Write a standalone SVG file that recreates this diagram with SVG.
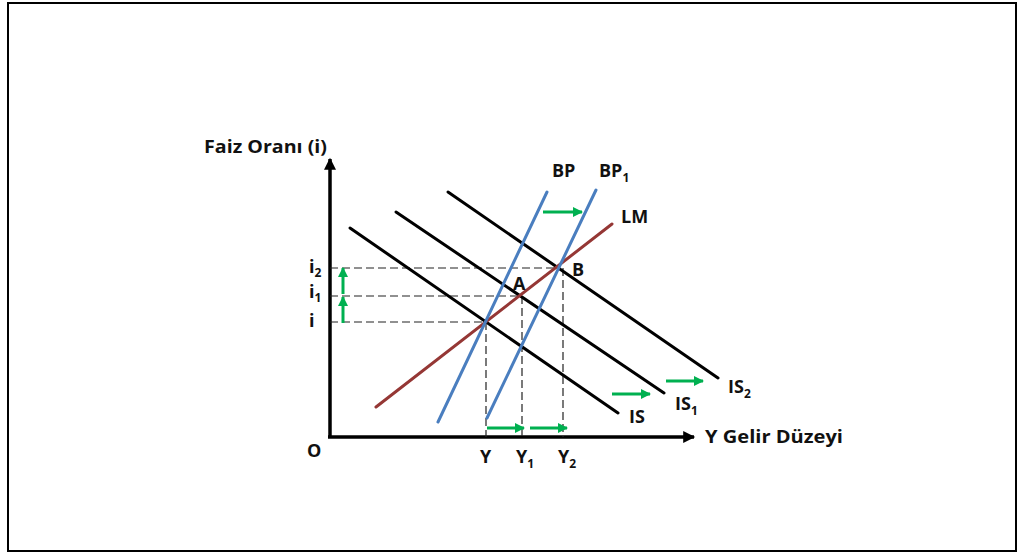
<svg xmlns="http://www.w3.org/2000/svg" width="1022" height="556" viewBox="0 0 1022 556">
<style>
text{font-family:"Open Sans","Liberation Sans",sans-serif;font-weight:bold;font-size:18px;fill:#111}
.sub{font-size:12px}
.is{stroke:#000;stroke-width:3;stroke-linecap:round;fill:none}
.bp{stroke:#4a7ebf;stroke-width:3;stroke-linecap:round;fill:none}
.lm{stroke:#953735;stroke-width:3;stroke-linecap:round;fill:none}
.dash{stroke:#222;stroke-width:1.2;stroke-dasharray:8,4;fill:none}
.ax{stroke:#000;stroke-width:3.5;fill:none}
.gr{stroke:#00b050;stroke-width:3;fill:none}
</style>
<defs>
<marker id="ah" viewBox="0 0 10 10" refX="9" refY="5" markerWidth="14" markerHeight="12" markerUnits="userSpaceOnUse" orient="auto"><path d="M0,0 L10,5 L0,10 z" fill="#000"/></marker>
<marker id="gh" viewBox="0 0 10 10" refX="9" refY="5" markerWidth="12" markerHeight="10" markerUnits="userSpaceOnUse" orient="auto"><path d="M0,0 L10,5 L0,10 z" fill="#00b050"/></marker>
</defs>
<rect x="8" y="3" width="1008" height="548" fill="#fff" stroke="#000" stroke-width="2"/>
<g id="axes">
<line class="ax" x1="330" y1="437" x2="330" y2="159" marker-end="url(#ah)"/>
<line class="ax" x1="328" y1="437" x2="694" y2="437" marker-end="url(#ah)"/>
</g>
<g id="connectors">
<line class="dash" x1="330" y1="322" x2="485" y2="322"/>
<line class="dash" x1="330" y1="296" x2="522" y2="296"/>
<line class="dash" x1="330" y1="268" x2="560" y2="268"/>
<line class="dash" x1="486" y1="322" x2="486" y2="437"/>
<line class="dash" x1="522" y1="296" x2="522" y2="437"/>
<line class="dash" x1="563" y1="268" x2="563" y2="437"/>
<line class="gr" x1="343" y1="323" x2="343" y2="297" marker-end="url(#gh)"/>
<line class="gr" x1="343" y1="294" x2="343" y2="268" marker-end="url(#gh)"/>
<line class="gr" x1="487" y1="428" x2="524" y2="428" marker-end="url(#gh)"/>
<line class="gr" x1="530" y1="428" x2="567" y2="428" marker-end="url(#gh)"/>
<line class="gr" x1="543" y1="212" x2="582" y2="212" marker-end="url(#gh)"/>
<line class="gr" x1="612" y1="394" x2="650" y2="394" marker-end="url(#gh)"/>
<line class="gr" x1="666" y1="381" x2="703" y2="381" marker-end="url(#gh)"/>
</g>
<g id="IS"><line class="is" x1="350" y1="228" x2="618" y2="413"/></g>
<g id="IS1"><line class="is" x1="396" y1="212" x2="664" y2="393"/></g>
<g id="IS2"><line class="is" x1="448" y1="192" x2="718" y2="378"/></g>
<g id="LM"><line class="lm" x1="376" y1="407" x2="612" y2="224"/></g>
<g id="BP"><line class="bp" x1="438" y1="422" x2="547" y2="192"/></g>
<g id="BP1"><line class="bp" x1="487" y1="418" x2="596" y2="190"/></g>
<g id="labels">
<text x="204" y="153" textLength="123" lengthAdjust="spacingAndGlyphs">Faiz Oranı (i)</text>
<text x="309" y="273">i<tspan class="sub" dy="4">2</tspan></text>
<text x="309" y="298">i<tspan class="sub" dy="4">1</tspan></text>
<text x="309" y="327">i</text>
<text x="307" y="457">O</text>
<text x="480" y="463">Y</text>
<text x="516" y="463">Y<tspan class="sub" dy="5">1</tspan></text>
<text x="558" y="463">Y<tspan class="sub" dy="5">2</tspan></text>
<text x="705" y="443" textLength="138" lengthAdjust="spacingAndGlyphs">Y Gelir Düzeyi</text>
<text x="629" y="423">IS</text>
<text x="675" y="410">IS<tspan class="sub" dy="5">1</tspan></text>
<text x="728" y="393">IS<tspan class="sub" dy="5">2</tspan></text>
<text x="621" y="223">LM</text>
<text x="552" y="177">BP</text>
<text x="599" y="177">BP<tspan class="sub" dy="5">1</tspan></text>
<text x="513" y="290">A</text>
<text x="572" y="276">B</text>
</g>
</svg>
